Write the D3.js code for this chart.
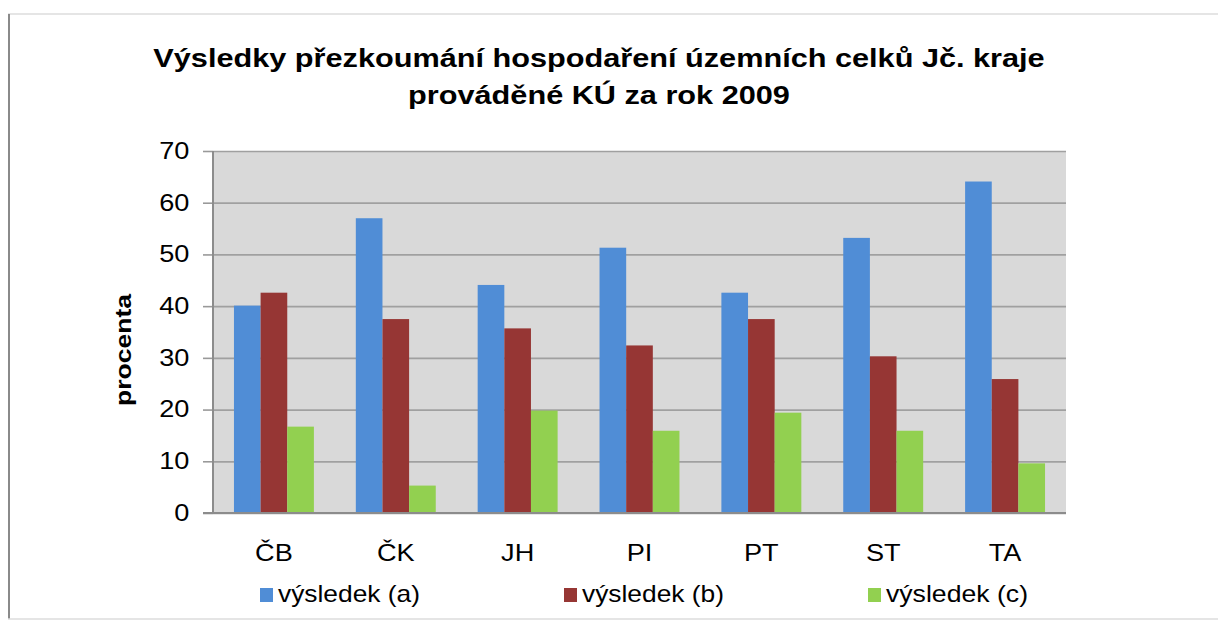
<!DOCTYPE html>
<html>
<head>
<meta charset="utf-8">
<script src="https://cdn.jsdelivr.net/npm/d3@7"></script>
<style>
  body { margin: 0; background: #fff; }
  svg text { font-family: "Liberation Sans", Arial, sans-serif; fill: #000; }
</style>
</head>
<body>
<svg id="chart"></svg>
<script>
const categories = ["ČB", "ČK", "JH", "PI", "PT", "ST", "TA"];
const seriesNames = ["výsledek (a)", "výsledek (b)", "výsledek (c)"];
const valuesA = [40.1, 57.0, 44.1, 51.3, 42.6, 53.2, 64.1];
const valuesB = [42.6, 37.5, 35.7, 32.4, 37.5, 30.3, 25.9];
const valuesC = [16.7, 5.3, 19.8, 15.9, 19.4, 15.9, 9.6];
const yTicks = [0, 10, 20, 30, 40, 50, 60, 70];
const titleLines = ["Výsledky přezkoumání hospodaření územních celků Jč. kraje", "prováděné KÚ za rok 2009"];

const colors = ["#508dd6", "#963634", "#92d050"];

var width = 1218, height = 622;
var margin = {top: 151, left: 213, right: 152, bottom: 109};
var plotW = width - margin.left - margin.right;
var plotH = height - margin.top - margin.bottom;
// the source picture is a bit wider than tall, text is stretched sideways
var stretch = 1.18;

var svg = d3.select("#chart").attr("width", width).attr("height", height);

// outer frame of the pasted picture
svg.append("line").attr("x1", 8).attr("x2", width).attr("y1", 14).attr("y2", 14)
  .attr("stroke", "#dcdcdc").attr("stroke-width", 1.5);
svg.append("line").attr("x1", 9).attr("x2", 9).attr("y1", 14).attr("y2", 619)
  .attr("stroke", "#8a8a8a").attr("stroke-width", 2);
svg.append("line").attr("x1", 8).attr("x2", width).attr("y1", 619).attr("y2", 619)
  .attr("stroke", "#dcdcdc").attr("stroke-width", 1.5);

// title
svg.selectAll(".title").data(titleLines).enter().append("text")
  .attr("class", "title")
  .attr("transform", (d, i) => "translate(599," + (67 + i * 37) + ") scale(" + stretch + ",1)")
  .attr("text-anchor", "middle")
  .attr("font-size", 26).attr("font-weight", "bold")
  .text(d => d);

var g = svg.append("g").attr("transform", "translate(" + margin.left + "," + margin.top + ")");

var x0 = d3.scaleBand().domain(categories).range([0, plotW]).paddingInner(0.344).paddingOuter(0.172);
var x1 = d3.scaleBand().domain(seriesNames).range([0, x0.bandwidth()]);
var y = d3.scaleLinear().domain([0, 70]).range([plotH, 0]);

g.append("rect").attr("width", plotW).attr("height", plotH).attr("fill", "#d9d9d9");

// gridlines
g.append("g").attr("class", "grid")
  .call(d3.axisLeft(y).tickValues(yTicks).tickSize(-plotW).tickFormat(""))
  .call(s => s.select(".domain").remove())
  .call(s => s.selectAll("line").attr("stroke", "#a0a0a0").attr("stroke-width", 1.7));

var table = categories.map((c, i) => ({cat: c, vals: [valuesA[i], valuesB[i], valuesC[i]]}));

g.selectAll(".group").data(table).enter().append("g")
  .attr("class", "group")
  .attr("transform", d => "translate(" + x0(d.cat) + ",0)")
  .selectAll("rect")
  .data(d => d.vals.map((v, j) => ({name: seriesNames[j], value: v, j: j})))
  .enter().append("rect")
  .attr("x", d => x1(d.name))
  .attr("width", x1.bandwidth())
  .attr("y", d => y(d.value))
  .attr("height", d => plotH - y(d.value))
  .attr("fill", d => colors[d.j]);

// y axis
var yAxis = g.append("g")
  .call(d3.axisLeft(y).tickValues(yTicks).tickSize(10).tickPadding(10))
  .call(s => s.select(".domain").remove());
yAxis.selectAll("line").attr("stroke", "#999").attr("stroke-width", 1.6);
yAxis.selectAll("text").attr("font-size", 23).attr("font-family", "Liberation Sans, Arial, sans-serif")
  .attr("fill", "#111").attr("transform", "scale(" + stretch + ",1)");
g.append("line").attr("x1", 0).attr("x2", 0).attr("y1", 0).attr("y2", plotH)
  .attr("stroke", "#8c8c8c").attr("stroke-width", 2);
g.append("line").attr("x1", -10).attr("x2", plotW).attr("y1", plotH).attr("y2", plotH)
  .attr("stroke", "#8c8c8c").attr("stroke-width", 2);

// x axis labels
var xAxis = g.append("g").attr("transform", "translate(0," + plotH + ")")
  .call(d3.axisBottom(x0).tickSize(0).tickPadding(32))
  .call(s => s.select(".domain").remove());
xAxis.selectAll("text").attr("font-size", 23).attr("font-family", "Liberation Sans, Arial, sans-serif")
  .attr("fill", "#111").attr("transform", "scale(" + stretch + ",1)");

// y axis title
svg.append("text")
  .attr("transform", "translate(131,350) rotate(-90)")
  .attr("text-anchor", "middle")
  .attr("font-size", 22).attr("font-weight", "bold")
  .attr("textLength", 112).attr("lengthAdjust", "spacingAndGlyphs")
  .text("procenta");

// legend
var legendX = d3.scalePoint().domain(seriesNames).range([260, 868]);
var legend = svg.selectAll(".legend").data(seriesNames).enter().append("g")
  .attr("class", "legend")
  .attr("transform", d => "translate(" + legendX(d) + ",588)");
legend.append("rect").attr("width", 13).attr("height", 14).attr("fill", (d, i) => colors[i]);
legend.append("text").attr("x", 18).attr("y", 14).attr("font-size", 24).attr("fill", "#111")
  .attr("textLength", 142).attr("lengthAdjust", "spacingAndGlyphs")
  .text(d => d);
</script>
</body>
</html>
